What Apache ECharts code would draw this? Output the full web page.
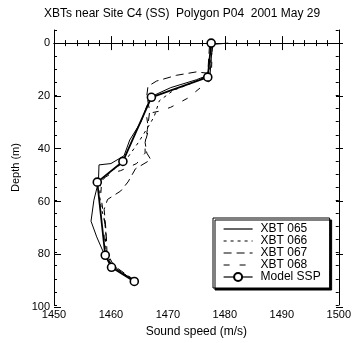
<!DOCTYPE html>
<html>
<head>
<meta charset="utf-8">
<script src="https://cdn.jsdelivr.net/npm/echarts@6/dist/echarts.min.js"></script>
<style>
html, body { margin: 0; padding: 0; background: #fff; }
#chart { width: 354px; height: 343px; }
</style>
</head>
<body>
<div id="chart"></div>
<script>
// sound speed (m/s) and depth (m) for each profile
var xbt065Speed = [1480.6, 1477.8, 1477.4, 1475.0, 1470.5, 1467.5, 1466.3, 1465.3, 1463.3, 1462.3, 1460.0, 1457.9, 1457.8, 1457.0, 1456.5, 1457.5, 1458.5, 1459.2, 1460.8, 1464.0];
var xbt065Depth = [0, 0.5, 12, 14, 17, 20, 24, 30, 37, 43, 46, 46.5, 53, 60, 68, 74, 79, 82, 86, 90.5];

var xbt066Speed = [1477.9, 1477.2, 1474.5, 1471.0, 1468.5, 1467.6, 1466.8, 1464.8, 1462.5, 1460.0, 1458.2, 1458.0, 1458.3, 1458.8, 1459.1, 1459.0, 1459.8, 1461.5, 1463.5];
var xbt066Depth = [1, 12, 15, 18, 22, 28, 31, 38, 45, 49, 53, 58, 63, 67, 72, 78, 83, 87, 90];

var xbt067Speed = [1477.3, 1477.0, 1475.0, 1471.5, 1468.0, 1466.5, 1466.3, 1466.8, 1466.4, 1466.0, 1466.3, 1467.0, 1464.3, 1463.0, 1461.7, 1459.4, 1458.8, 1459.0, 1459.2, 1459.3, 1460.5, 1463.8];
var xbt067Depth = [1, 11.5, 11, 12.3, 14.5, 16.5, 20, 26, 33, 38, 42, 44.5, 48, 53, 56.5, 59.7, 63.5, 68, 74, 80, 85, 90];

var xbt068Speed = [1477.8, 1477.6, 1476.0, 1473.5, 1470.5, 1468.5, 1466.2, 1466.6, 1466.0, 1466.0, 1464.5, 1461.7, 1460.3, 1458.4, 1458.2, 1458.6, 1459.0, 1458.9, 1459.5, 1461.0, 1463.5];
var xbt068Depth = [1, 14, 16.5, 21, 24.5, 26, 27, 33, 38, 42, 46, 48.7, 49.5, 52, 58, 64, 70, 76, 82, 86, 90];

var modelSpeed = [1477.6, 1477.0, 1467.1, 1462.1, 1457.6, 1459.0, 1460.1, 1464.1];
var modelDepth = [0, 13, 20.7, 45.2, 53.1, 81, 85.6, 91];

var seriesNames = ['XBT 065', 'XBT 066', 'XBT 067', 'XBT 068', 'Model SSP'];
var xTicks = [1450, 1460, 1470, 1480, 1490, 1500];
var yTicks = [0, 20, 40, 60, 80, 100];

function pairs(speed, depth) {
	var out = [];
	for (var i = 0; i < speed.length; i++) {
		out.push([speed[i], depth[i]]);
	}
	return out;
}

var font = 'Liberation Sans';
var black = '#000';

function xbtSeries(name, speed, depth, dash) {
	return {
		name: name,
		type: 'line',
		xAxisIndex: 0,
		yAxisIndex: 0,
		data: pairs(speed, depth),
		symbol: 'none',
		silent: true,
		itemStyle: { color: black },
		lineStyle: { color: black, width: 1, type: dash },
		z: 2
	};
}

// legend entries: plain lines for the XBTs, line + marker for the model
var legendData = [];
for (var i = 0; i < seriesNames.length; i++) {
	if (i < 4) {
		legendData.push({ name: seriesNames[i], itemStyle: { opacity: 0 } });
	} else {
		legendData.push({ name: seriesNames[i] });
	}
}

function plainNum(v) {
	return String(v);
}

var chart = echarts.init(document.getElementById('chart'), null, { renderer: 'canvas' });

var option = {
	animation: false,
	backgroundColor: '#fff',
	textStyle: { fontFamily: font, color: black },
	graphic: [{
		type: 'text',
		left: 44,
		top: 8,
		style: {
			text: 'XBTs near Site C4 (SS)  Polygon P04  2001 May 29',
			font: '12px ' + font,
			fill: black
		}
	}],
	legend: {
		orient: 'vertical',
		left: 213,
		top: 218,
		data: legendData,
		itemWidth: 29,
		itemHeight: 10,
		itemGap: 0,
		padding: [5, 9, 5, 10],
		backgroundColor: '#fff',
		borderColor: black,
		borderWidth: 1,
		borderRadius: 0,
		shadowColor: black,
		shadowBlur: 0,
		shadowOffsetX: 2,
		shadowOffsetY: 2,
		selectedMode: false,
		lineStyle: { width: 1.2 },
		textStyle: { fontFamily: font, fontSize: 12, color: black, padding: [0, 0, 0, 3], lineHeight: 12 }
	},
	grid: [
		{ left: 54, right: 11, top: 30, bottom: 36 },
		// second grid lines up 0..100 so major ticks can start at 0
		{ left: 54, right: 11, top: 30 + 5 * 277 / 105, bottom: 36 }
	],
	xAxis: [
		{
			type: 'value', gridIndex: 0, position: 'bottom',
			min: xTicks[0], max: xTicks[xTicks.length - 1], interval: 10,
			name: 'Sound speed (m/s)', nameLocation: 'middle', nameGap: 21,
			nameTextStyle: { fontFamily: font, fontSize: 12, color: black },
			axisLine: { lineStyle: { color: black, width: 1 } },
			axisTick: { inside: true, length: 7, lineStyle: { color: black } },
			minorTick: { show: true, splitNumber: 5, length: 3, lineStyle: { color: black } },
			axisLabel: { fontFamily: font, fontSize: 11, color: black, margin: 4, showMaxLabel: true, formatter: plainNum },
			splitLine: { show: false }
		},
		{
			type: 'value', gridIndex: 0, position: 'top',
			min: xTicks[0], max: xTicks[xTicks.length - 1], interval: 10,
			axisLine: { lineStyle: { color: black, width: 1 } },
			axisTick: { inside: true, length: 7, lineStyle: { color: black } },
			minorTick: { show: true, splitNumber: 5, length: 3, lineStyle: { color: black } },
			axisLabel: { show: false },
			splitLine: { show: false }
		},
		{
			type: 'value', gridIndex: 1, show: false,
			min: xTicks[0], max: xTicks[xTicks.length - 1]
		}
	],
	yAxis: [
		{
			type: 'value', gridIndex: 0, position: 'left', inverse: true,
			min: -5, max: 100, interval: 5,
			name: 'Depth (m)', nameLocation: 'middle', nameGap: 33,
			nameTextStyle: { fontFamily: font, fontSize: 11, color: black },
			axisLine: { lineStyle: { color: black, width: 1 } },
			axisTick: { inside: true, length: 3, lineStyle: { color: black } },
			axisLabel: { show: false },
			splitLine: { show: false }
		},
		{
			type: 'value', gridIndex: 0, position: 'right', inverse: true,
			min: -5, max: 100, interval: 5,
			axisLine: { lineStyle: { color: black, width: 1 } },
			axisTick: { inside: true, length: 3, lineStyle: { color: black } },
			axisLabel: { show: false },
			splitLine: { show: false }
		},
		{
			type: 'value', gridIndex: 1, position: 'left', inverse: true,
			min: yTicks[0], max: yTicks[yTicks.length - 1], interval: 20,
			axisLine: { show: false },
			axisTick: { inside: true, length: 7, lineStyle: { color: black } },
			axisLabel: { fontFamily: font, fontSize: 11, color: black, margin: 4, formatter: plainNum },
			splitLine: { show: false }
		},
		{
			type: 'value', gridIndex: 1, position: 'right', inverse: true,
			min: yTicks[0], max: yTicks[yTicks.length - 1], interval: 20,
			axisLine: { show: false },
			axisTick: { inside: true, length: 7, lineStyle: { color: black } },
			axisLabel: { show: false },
			splitLine: { show: false }
		}
	],
	series: [
		xbtSeries(seriesNames[0], xbt065Speed, xbt065Depth, 'solid'),
		xbtSeries(seriesNames[1], xbt066Speed, xbt066Depth, [3, 4]),
		xbtSeries(seriesNames[2], xbt067Speed, xbt067Depth, [8, 5]),
		xbtSeries(seriesNames[3], xbt068Speed, xbt068Depth, [6, 10]),
		{
			name: seriesNames[4],
			type: 'line',
			xAxisIndex: 0,
			yAxisIndex: 0,
			data: pairs(modelSpeed, modelDepth),
			symbol: 'circle',
			symbolSize: 8,
			showAllSymbol: true,
			silent: true,
			lineStyle: { color: black, width: 1.8 },
			itemStyle: { color: '#fff', borderColor: black, borderWidth: 1.6 },
			z: 3
		}
	]
};

chart.setOption(option);
</script>
</body>
</html>
